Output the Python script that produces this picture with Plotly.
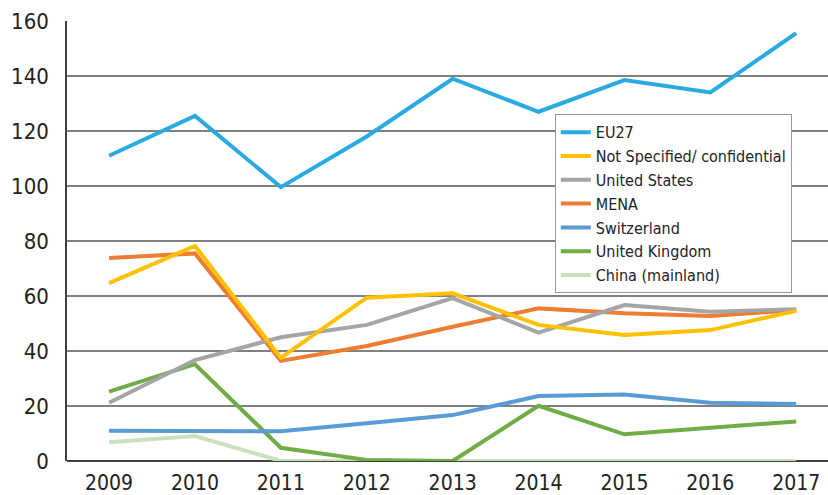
import plotly.graph_objects as go

years = ["2009", "2010", "2011", "2012", "2013", "2014", "2015", "2016", "2017"]
eu27 = [111, 125.5, 99.6, 118, 139, 127, 138.5, 134, 155.6]
not_specified = [64.7, 78.2, 37.5, 59.4, 61, 49.5, 45.8, 47.6, 54.6]
united_states = [21.2, 36.7, 45, 49.5, 59.2, 46.7, 56.7, 54.3, 55.2]
mena = [73.8, 75.5, 36.4, 41.8, 48.8, 55.5, 53.7, 52.7, 54.9]
switzerland = [11.0, 10.8, 10.8, 13.7, 16.7, 23.6, 24.2, 21.2, 20.7]
united_kingdom = [25.2, 35.2, 4.8, 0.4, 0, 20.1, 9.7, 11.9, 14.4]
china = [6.8, 9.1, 0, 0, 0, 0, 0, 0, 0]

y_ticks = [0, 20, 40, 60, 80, 100, 120, 140, 160]

series = [
    ("EU27", eu27, "#2AAAE2"),
    ("Not Specified/ confidential", not_specified, "#FFC000"),
    ("United States", united_states, "#A5A5A5"),
    ("MENA", mena, "#ED7D31"),
    ("Switzerland", switzerland, "#5B9BD5"),
    ("United Kingdom", united_kingdom, "#70AD47"),
    ("China (mainland)", china, "#CBE0BC"),
]

FONT = "Liberation Sans Narrow, DejaVu Sans Condensed, Arial Narrow, sans-serif"

fig = go.Figure()
xs = list(range(len(years)))
for name, vals, color in reversed(series):
    fig.add_trace(go.Scatter(
        x=xs, y=vals, name=name, mode="lines",
        line=dict(color=color, width=4),
        hoverinfo="name+y",
    ))

fig.update_layout(
    width=828, height=495,
    margin=dict(l=67, r=0, t=21, b=34, autoexpand=False),
    paper_bgcolor="white", plot_bgcolor="white",
    font=dict(family=FONT, color="#222222", size=22),
    showlegend=True,
    legend=dict(
        x=0.641, y=0.788, xanchor="left", yanchor="top",
        traceorder="reversed",
        bgcolor="white", bordercolor="#999999", borderwidth=1,
        font=dict(family=FONT, size=16, color="#222222"),
        itemwidth=30, tracegroupgap=0,
    ),
    xaxis=dict(
        range=[-0.49, 8.37],
        tickmode="array", tickvals=xs, ticktext=years,
        tickfont=dict(size=21),
        showgrid=False, zeroline=False,
        showline=False, ticks="",
        ticklabelstandoff=7, automargin=False,
        fixedrange=True,
    ),
    yaxis=dict(
        range=[0, 160],
        tickmode="array", tickvals=y_ticks,
        showgrid=True, gridcolor="#808080", gridwidth=1.5,
        zeroline=True, zerolinecolor="#404040", zerolinewidth=2,
        showline=True, linecolor="#404040", linewidth=1.5,
        ticks="", ticklabelstandoff=12, automargin=False,
        fixedrange=True,
    ),
)

fig.write_html(
    "out.html",
    config={"displayModeBar": False},
    post_script="document.body.style.margin='0';document.body.style.overflow='hidden';",
)
